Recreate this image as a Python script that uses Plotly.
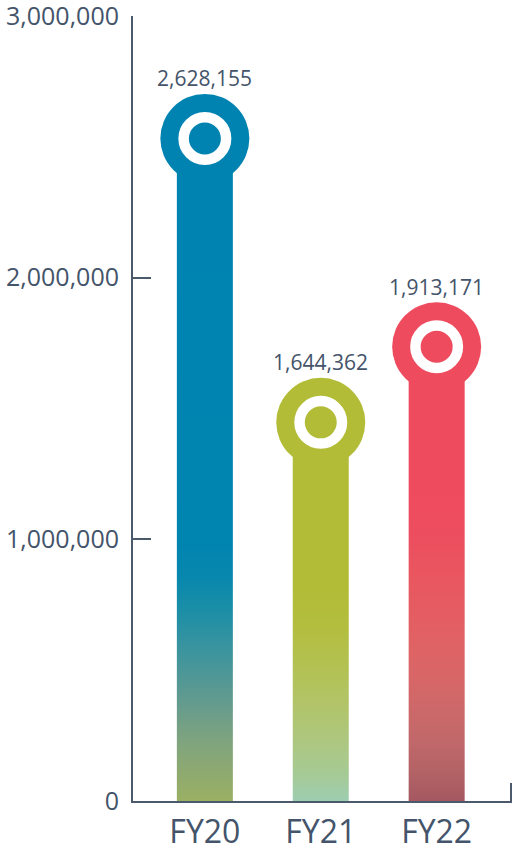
import plotly.graph_objects as go

# ---- data ----
categories = ["FY20", "FY21", "FY22"]
values = [2628155, 1644362, 1913171]          # labelled totals
bar_heights = [2532000, 1447000, 1736000]     # drawn column height (circle centre)
bar_colors = ["#0083B1", "#B3BC37", "#EF4B5F"]
# vertical gradient stops per column (0 = bottom, 1 = top of column)
gradients = [
    [[0.0, "#9AB064"], [0.04, "#8FAA6F"], [0.09, "#7FA47E"], [0.14, "#689C8C"],
     [0.19, "#4E9797"], [0.24, "#3593A0"], [0.29, "#1A8EA7"], [0.34, "#0787AD"],
     [0.39, "#0084B0"], [1.0, "#0083B1"]],
    [[0.0, "#9DCDB1"], [0.07, "#A6CA95"], [0.16, "#ADC77F"], [0.25, "#B1C46A"],
     [0.34, "#B2C255"], [0.45, "#B3BE40"], [0.55, "#B3BC37"], [1.0, "#B3BC37"]],
    [[0.0, "#A55862"], [0.06, "#B26265"], [0.13, "#C1686A"], [0.21, "#CE6869"],
     [0.28, "#D96667"], [0.35, "#E06264"], [0.42, "#E55C62"], [0.50, "#E9565F"],
     [0.57, "#EC4F5F"], [0.68, "#EF4B5F"], [1.0, "#EF4B5F"]],
]
ytick_vals = [0, 1000000, 2000000, 3000000]

# ---- style ----
AXIS = "#4A5A6B"
TEXT = "#44546A"
FONT = "Open Sans"
x_pos = list(range(len(categories)))
half_w = 0.2416

fig = go.Figure()

for i, (xc, h) in enumerate(zip(x_pos, bar_heights)):
    fig.add_trace(go.Scatter(
        x=[xc - half_w, xc + half_w, xc + half_w, xc - half_w, xc - half_w],
        y=[0, 0, h, h, 0],
        mode="lines", fill="toself",
        line=dict(width=0, color="rgba(0,0,0,0)"),
        fillgradient=dict(type="vertical", colorscale=gradients[i], start=0, stop=h),
        hoverinfo="skip", showlegend=False,
    ))

# big circle heads
fig.add_trace(go.Scatter(
    x=x_pos, y=bar_heights, mode="markers",
    marker=dict(size=89, color=bar_colors, line=dict(width=0)),
    hoverinfo="skip", showlegend=False,
))
# white ring + inner dot
fig.add_trace(go.Scatter(
    x=x_pos, y=bar_heights, mode="markers",
    marker=dict(size=42.5, color=bar_colors, line=dict(width=10.5, color="white")),
    hoverinfo="skip", showlegend=False,
))

for xc, h, v in zip(x_pos, bar_heights, values):
    fig.add_annotation(
        x=xc, y=h, text=f"{v:,}", showarrow=False,
        yanchor="bottom", yshift=44,
        font=dict(family=FONT, size=21, color=TEXT),
    )

# small end tick at the right end of the x axis
fig.add_shape(type="line", xref="paper", yref="paper",
              x0=0.9974, x1=0.9974, y0=0, y1=0.023,
              line=dict(color=AXIS, width=2))

fig.update_layout(
    width=512, height=846,
    margin=dict(l=133, r=0, t=16, b=45, autoexpand=False),
    paper_bgcolor="white", plot_bgcolor="white",
    font=dict(family=FONT, color=TEXT),
    xaxis=dict(
        range=[-0.62, 2.65], tickvals=x_pos, ticktext=categories,
        showgrid=False, zeroline=False, showline=True,
        linecolor=AXIS, linewidth=2, ticks="",
        ticklabelstandoff=2, ticklabeloverflow="allow",
        tickfont=dict(family=FONT, size=32, color=TEXT),
        fixedrange=True,
    ),
    yaxis=dict(
        range=[0, 3000000], tickvals=ytick_vals, tickformat=",",
        showgrid=False, zeroline=False, showline=True,
        linecolor=AXIS, linewidth=2,
        ticks="inside", ticklen=18, tickwidth=2, tickcolor=AXIS,
        ticklabelstandoff=7, ticklabeloverflow="allow",
        tickfont=dict(family=FONT, size=25, color=TEXT),
        fixedrange=True,
    ),
)

fig.write_html(
    "out.html",
    config={"displayModeBar": False},
    post_script="document.body.style.margin='0px';document.body.style.overflow='hidden';",
)
